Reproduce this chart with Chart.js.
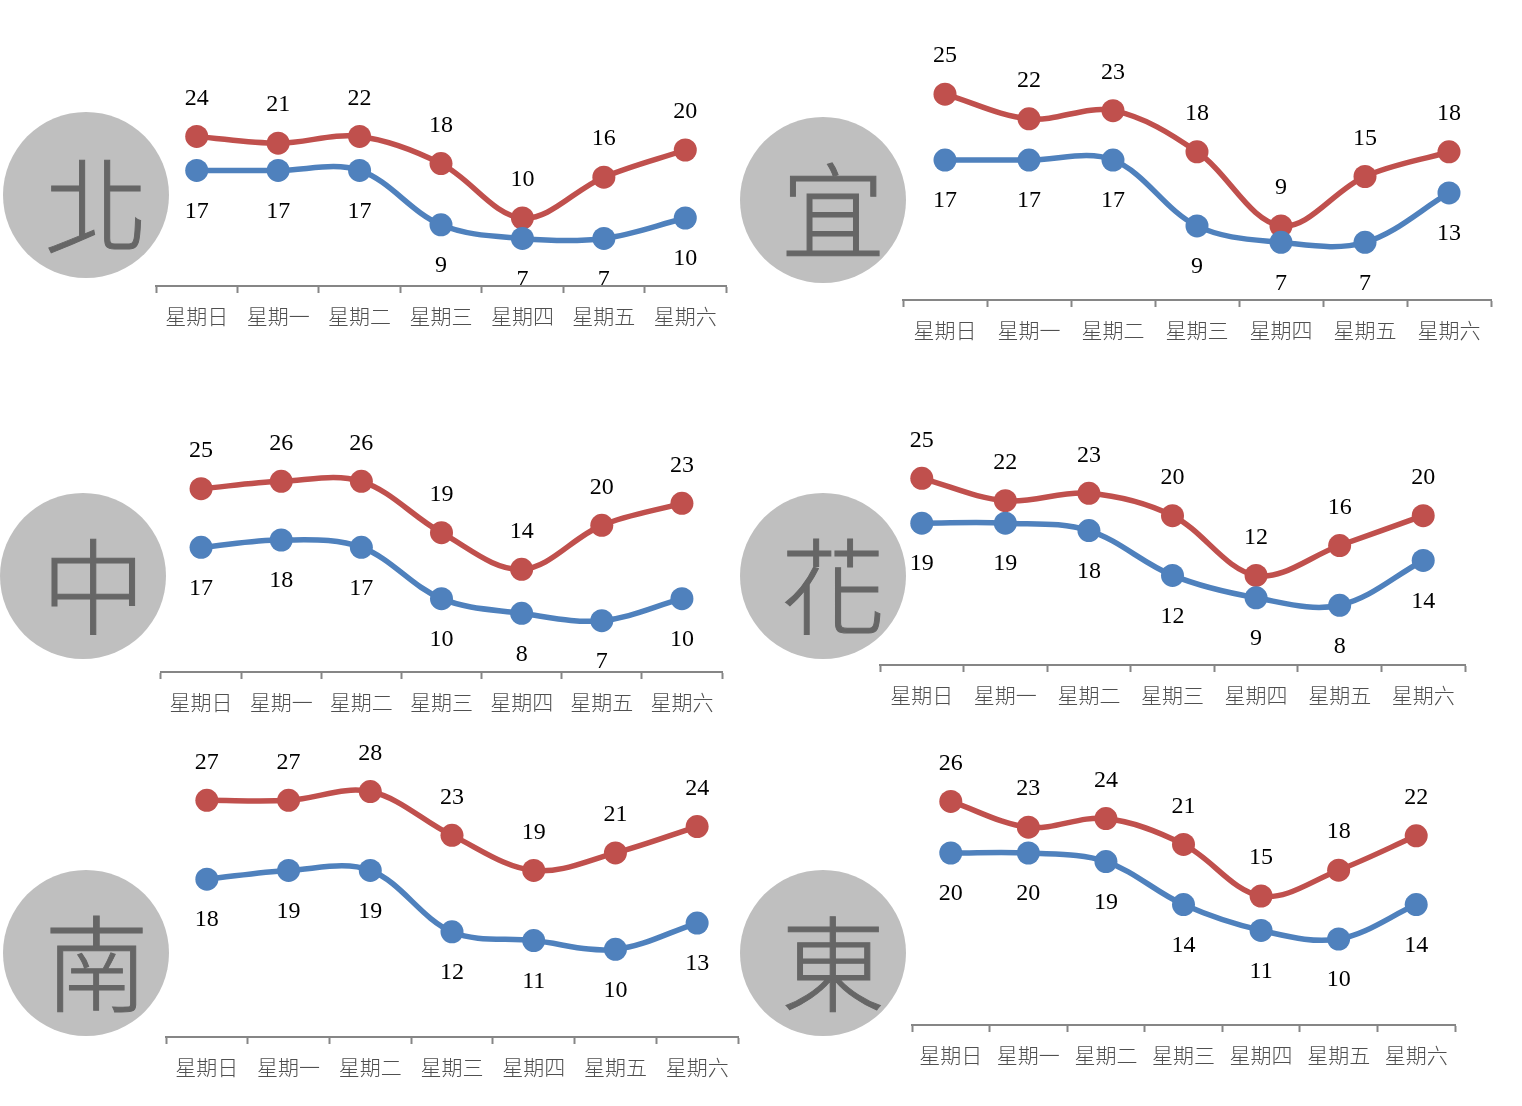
<!DOCTYPE html>
<html lang="zh-Hant"><head><meta charset="utf-8">
<script src="https://cdn.jsdelivr.net/npm/chart.js@4"></script>
<style>
html,body{margin:0;padding:0;background:#fff;}
body{position:relative;width:1522px;height:1106px;overflow:hidden;}
canvas{position:absolute;}
.wrap{position:absolute;}
.disc{position:absolute;width:166px;height:166px;border-radius:50%;background:#bfbfbf;}
.disc span{position:absolute;left:0;top:0;width:187px;height:177px;line-height:177px;text-align:center;
font-family:"Noto Sans CJK TC";font-weight:300;font-size:104px;color:#666;-webkit-text-stroke:1px #666;}
</style></head><body>
<script>
const categories = ['星期日','星期一','星期二','星期三','星期四','星期五','星期六'];
const regions = ['北','宜','中','花','南','東'];

const redNorth  = [22,21,22,18,10,16,20];
const blueNorth = [17,17,17,9,7,7,10];
const redYilan  = [25,22,23,18,9,15,18];
const blueYilan = [17,17,17,9,7,7,13];
const redMid    = [25,26,26,19,14,20,23];
const blueMid   = [17,18,17,10,8,7,10];
const redHua    = [25,22,23,20,12,16,20];
const blueHua   = [19,19,18,12,9,8,14];
const redSouth  = [27,27,28,23,19,21,24];
const blueSouth = [18,19,19,12,11,10,13];
const redEast   = [26,23,24,21,15,18,22];
const blueEast  = [20,20,19,14,11,10,14];

// printed text for the red series where it differs from the plotted height
const redNorthText = [24,21,22,18,10,16,20];

const reds  = [redNorth,redYilan,redMid,redHua,redSouth,redEast];
const blues = [blueNorth,blueYilan,blueMid,blueHua,blueSouth,blueEast];
const redTexts = [redNorthText,redYilan,redMid,redHua,redSouth,redEast];

// layout: axis left, axis right, baseline y, plot height for AXIS_MAX, disc centre x, disc centre y
const frames = [
  [156,726,286,204,86,195],
  [903,1491,300,247,822.5,200],
  [161,722,672,220,83,576],
  [880,1465,665,224,822.5,576],
  [166,738,1037,263,86,953],
  [912,1455,1025,258,822.5,953]
];
const RED='#C0504D', BLUE='#4F81BD', AXIS='#868686';
const AXIS_MAX=30, PAD_TOP=40, PAD_SIDE=24, BELOW=52;

const valueLabels = {
  id:'valueLabels',
  afterDatasetsDraw(chart,args,opts){
    const c=chart.ctx, a=chart.chartArea;
    c.save();
    c.beginPath(); c.rect(0,0,chart.width,a.bottom-1); c.clip();
    c.font='24px "Liberation Serif"'; c.fillStyle='#000';
    c.textAlign='center'; c.textBaseline='middle';
    chart.data.datasets.forEach((ds,i)=>{
      chart.getDatasetMeta(i).data.forEach((pt,j)=>{
        c.fillText(String(ds.printed[j]), pt.x, pt.y+ds.labelShift);
      });
    });
    c.restore();
  }
};

frames.forEach((f,i)=>{
  const [l,r,base,plotH,cx,cy]=f;
  const d=document.createElement('div'); d.className='disc';
  d.style.left=(cx-83)+'px'; d.style.top=(cy-83)+'px';
  const s=document.createElement('span'); s.textContent=regions[i]; d.appendChild(s);
  document.body.appendChild(d);

  const w=document.createElement('div'); w.className='wrap';
  const W=r-l+2*PAD_SIDE, H=plotH+PAD_TOP+BELOW;
  w.style.left=(l-PAD_SIDE)+'px'; w.style.top=(base-plotH-PAD_TOP)+'px';
  w.style.width=W+'px'; w.style.height=H+'px';
  const cv=document.createElement('canvas'); w.appendChild(cv);
  document.body.appendChild(w);

  new Chart(cv,{
    type:'line',
    data:{labels:categories,datasets:[
      {data:blues[i],printed:blues[i],labelShift:41,borderColor:BLUE,backgroundColor:BLUE,pointBackgroundColor:BLUE,pointBorderColor:BLUE},
      {data:reds[i],printed:redTexts[i],labelShift:-38,borderColor:RED,backgroundColor:RED,pointBackgroundColor:RED,pointBorderColor:RED}
    ]},
    options:{
      responsive:true,maintainAspectRatio:false,animation:false,
      layout:{padding:{top:PAD_TOP,left:PAD_SIDE,right:PAD_SIDE,bottom:0}},
      plugins:{legend:{display:false},tooltip:{enabled:false},title:{display:false}},
      elements:{line:{borderWidth:5.5,tension:0.35,fill:false},point:{radius:11.5,borderWidth:0}},
      scales:{
        y:{display:false,min:0,max:AXIS_MAX},
        x:{offset:true,
          afterFit(sc){sc.height=BELOW;},
          border:{display:true,color:AXIS,width:2},
          grid:{offset:true,drawOnChartArea:false,drawTicks:true,tickLength:7,tickColor:AXIS,tickWidth:2},
          ticks:{color:'#505050',font:{family:'"Noto Sans CJK TC"',size:21,weight:300},maxRotation:0,minRotation:0,autoSkip:false,padding:10}
        }
      }
    },
    plugins:[valueLabels]
  });
});
</script>
</body></html>
